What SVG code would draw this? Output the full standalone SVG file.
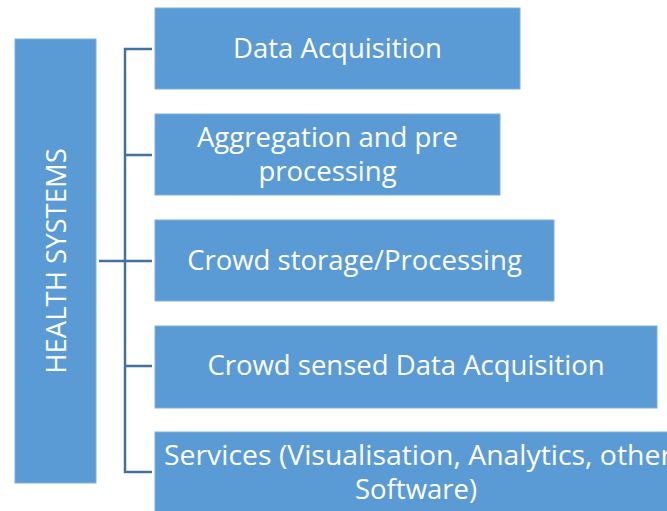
<svg xmlns="http://www.w3.org/2000/svg" width="667" height="511" viewBox="0 0 667 511">
<style>
.box{fill:#5B9BD5;stroke:#7EAFDD;stroke-width:1}
.t{fill:#FFFFFF;font-family:"Open Sans","Noto Sans","Liberation Sans",sans-serif;font-size:27.5px;text-anchor:middle}
.c{fill:none;stroke:#41719C;stroke-width:2.5}
</style>
<rect width="667" height="511" fill="#FFFFFF"/>
<g id="health-systems">
<rect class="box" x="15" y="39" width="81" height="444"/>
<text class="t" transform="translate(66,261) rotate(-90)">HEALTH SYSTEMS</text>
</g>
<g id="connectors">
<path class="c" d="M99,261H152M152,49H125V472H152M125,155H152M125,366H152"/>
</g>
<g id="data-acquisition">
<rect class="box" x="155" y="8" width="365" height="81"/>
<text class="t" x="337.5" y="58">Data Acquisition</text>
</g>
<g id="aggregation">
<rect class="box" x="155" y="114" width="345" height="81"/>
<text class="t" x="327.5" y="147">Aggregation and pre</text>
<text class="t" x="327.5" y="181">processing</text>
</g>
<g id="crowd-storage">
<rect class="box" x="155" y="220" width="399" height="81"/>
<text class="t" x="354.5" y="270">Crowd storage/Processing</text>
</g>
<g id="crowd-sensed">
<rect class="box" x="155" y="326" width="502" height="82"/>
<text class="t" x="406" y="375">Crowd sensed Data Acquisition</text>
</g>
<g id="services">
<rect class="box" x="155" y="432" width="530" height="90"/>
<text class="t" x="418" y="465" textLength="508" lengthAdjust="spacingAndGlyphs">Services (Visualisation, Analytics, other</text>
<text class="t" x="416" y="499">Software)</text>
</g>
</svg>
